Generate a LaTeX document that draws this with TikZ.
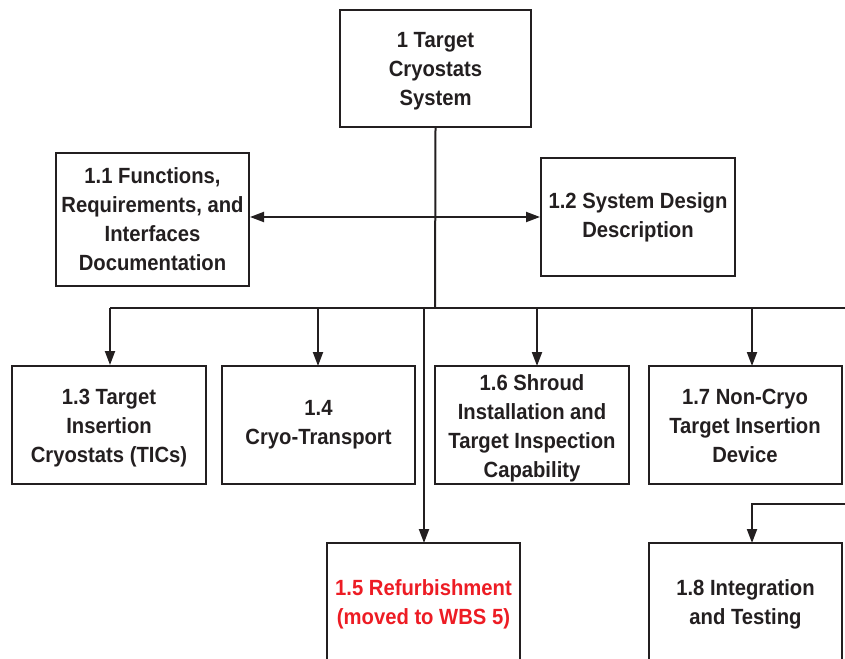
\documentclass[tikz,border=0pt]{standalone}
\usepackage{fontspec}
\setmainfont{Liberation Sans}[FakeStretch=0.92]
\usetikzlibrary{arrows.meta}
\definecolor{ink}{HTML}{231F20}
\definecolor{redtxt}{HTML}{ED1C24}
\begin{document}
\begin{tikzpicture}[x=1pt,y=-1pt,
  box/.style={draw=ink,line width=2pt,rectangle,inner sep=0pt},
  txt/.style={align=center,text=ink,font=\fontsize{22}{29}\selectfont\bfseries,inner sep=0pt},
  conn/.style={draw=ink,line width=2pt},
  arr/.style={conn,-{Triangle[length=14pt,width=10pt]}},
  darr/.style={conn,{Triangle[length=14pt,width=10pt]}-{Triangle[length=14pt,width=10pt]}}]
\useasboundingbox (0,0) rectangle (845,658);
\clip (0,0) rectangle (845,658);
\node[box,minimum width=191pt,minimum height=117pt] (top) at (435.5,68.5) {};
\node[box,minimum width=193pt,minimum height=133pt] (b11) at (152.5,219.5) {};
\node[box,minimum width=194pt,minimum height=118pt] (b12) at (638,217) {};
\node[box,minimum width=194pt,minimum height=118pt] (b13) at (109,425) {};
\node[box,minimum width=193pt,minimum height=118pt] (b14) at (318.5,425) {};
\node[box,minimum width=194pt,minimum height=118pt] (b16) at (532,425) {};
\node[box,minimum width=193pt,minimum height=118pt] (b17) at (745,425) {};
\node[box,minimum width=193pt,minimum height=118pt] (b15) at (423.5,602) {};
\node[box,minimum width=193pt,minimum height=118pt] (b18) at (745.5,602) {};
\node[txt] (ttop) at ([yshift=-3pt]top.center) {1 Target\\Cryostats\\System};
\node[txt] (t11) at (b11.center) {1.1 Functions,\\Requirements, and\\Interfaces\\Documentation};
\node[txt] (t12) at (b12.center) {1.2 System Design\\Description};
\node[txt] (t13) at ([yshift=-3pt]b13.center) {1.3 Target\\Insertion\\Cryostats (TICs)};
\node[txt] (t14) at (b14.center) {1.4\\Cryo-Transport};
\node[txt] (t16) at ([yshift=-3pt]b16.center) {1.6 Shroud\\Installation and\\Target Inspection\\Capability};
\node[txt] (t17) at ([yshift=-1pt]b17.center) {1.7 Non-Cryo\\Target Insertion\\Device};
\node[txt,text=redtxt] (t15) at ([yshift=-2pt]b15.center) {1.5 Refurbishment\\(moved to WBS 5)};
\node[txt] (t18) at ([yshift=-2pt]b18.center) {1.8 Integration\\and Testing};
% trunk
\coordinate (j) at (435,308);
\coordinate (hl) at (110,308);
\coordinate (hr) at (846,308);
\coordinate (a12) at (435,217);
\draw[conn] (top.south) -- (j);
\draw[conn] (hl) -- (hr);
\draw[darr] (b11.east |- a12) -- (b12.west |- a12);
\draw[arr] (hl) -- (hl |- b13.north);
\draw[arr] (318,308) -- (318,366);
\draw[arr] (537,308) -- (537,366);
\draw[arr] (752,308) -- (752,366);
\draw[arr] (424,308) -- (424,543);
\coordinate (r18) at (846,504);
\draw[arr] (r18) -- (752,504) -- (752,543);
\end{tikzpicture}
\end{document}
